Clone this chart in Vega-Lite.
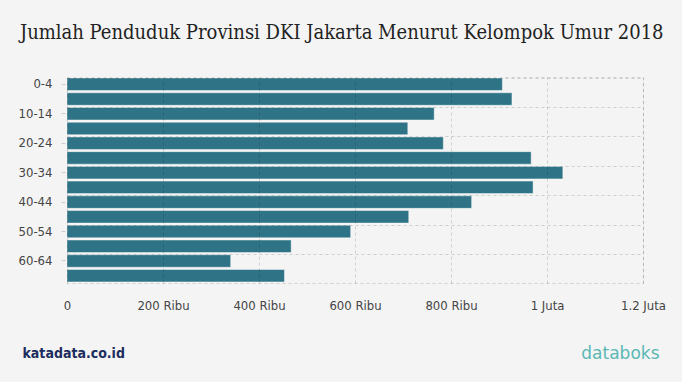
{
  "$schema": "https://vega.github.io/schema/vega-lite/v6.json",
  "width": 576,
  "height": 206,
  "autosize": "none",
  "padding": {"left": 67, "top": 77, "right": 39, "bottom": 99},
  "background": "#f4f4f4",
  "config": {
    "view": {"stroke": "rgba(0,0,0,0.15)", "strokeDash": [3, 3], "strokeWidth": 1}
  },
  "title": {
    "text": "Jumlah Penduduk Provinsi DKI Jakarta Menurut Kelompok Umur 2018",
    "font": "DejaVu Serif Condensed",
    "fontSize": 20,
    "fontWeight": "normal",
    "color": "#222222",
    "anchor": "middle",
    "frame": "bounds",
    "baseline": "alphabetic",
    "offset": 18
  },
  "data": {
    "values": [
      {"umur": "0-4", "jumlah": 907000},
      {"umur": "5-9", "jumlah": 927000},
      {"umur": "10-14", "jumlah": 765000},
      {"umur": "15-19", "jumlah": 710000},
      {"umur": "20-24", "jumlah": 784000},
      {"umur": "25-29", "jumlah": 967000},
      {"umur": "30-34", "jumlah": 1033000},
      {"umur": "35-39", "jumlah": 971000},
      {"umur": "40-44", "jumlah": 843000},
      {"umur": "45-49", "jumlah": 712000},
      {"umur": "50-54", "jumlah": 591000},
      {"umur": "55-59", "jumlah": 467000},
      {"umur": "60-64", "jumlah": 341000},
      {"umur": "65+", "jumlah": 453000}
    ]
  },
  "layer": [
    {
      "mark": {"type": "bar", "color": "#2f7386", "stroke": "#ffffff", "strokeOpacity": 0.45, "strokeWidth": 1},
      "encoding": {
        "y": {
          "field": "umur", "type": "nominal", "sort": null,
          "scale": {"paddingInner": 0.15, "paddingOuter": 0.07},
          "axis": {
            "orient": "left",
            "title": null,
            "values": ["0-4", "10-14", "20-24", "30-34", "40-44", "50-54", "60-64"],
            "domain": false,
            "grid": false,
            "ticks": true,
            "tickSize": 4,
            "tickColor": "#cccccc",
            "offset": 2,
            "labelPadding": 9,
            "labelFont": "DejaVu Sans Condensed",
            "labelFontSize": 13,
            "labelColor": "#444444"
          }
        },
        "x": {
          "field": "jumlah", "type": "quantitative",
          "scale": {"domain": [0, 1200000], "nice": false},
          "axis": {
            "orient": "bottom",
            "values": [0, 200000, 400000, 600000, 800000, 1000000, 1200000],
            "labelExpr": "datum.value == 0 ? '0' : (datum.value >= 1000000 ? format(datum.value / 1000000, '') + ' Juta' : format(datum.value / 1000, '') + ' Ribu')",
            "labelFlush": false,
            "labelOverlap": false,
            "grid": true,
            "gridDash": [3, 3],
            "gridColor": "rgba(0,0,0,0.15)",
            "domain": false,
            "ticks": false,
            "labelPadding": 16,
            "labelFont": "DejaVu Sans Condensed",
            "labelFontSize": 13,
            "labelColor": "#444444",
            "zindex": 1,
            "title": "databoks",
            "titleFont": "DejaVu Sans",
            "titleFontSize": 17,
            "titleFontWeight": "normal",
            "titleColor": "#5bb8b4",
            "titleAnchor": "end",
            "titleAlign": "right",
            "titleBaseline": "middle",
            "titleX": 592,
            "titleY": 70
          }
        }
      }
    },
    {
      "mark": {"type": "bar", "opacity": 0},
      "encoding": {
        "y": {
          "field": "umur", "type": "nominal", "sort": null,
          "axis": {
            "orient": "left",
            "title": null,
            "values": ["0-4", "10-14", "20-24", "30-34", "40-44", "50-54", "60-64"],
            "bandPosition": 0,
            "grid": true,
            "gridDash": [3, 3],
            "gridColor": "rgba(0,0,0,0.15)",
            "labels": false,
            "ticks": false,
            "domain": false,
            "zindex": 1
          }
        },
        "x": {
          "field": "jumlah", "type": "quantitative",
          "axis": {
            "orient": "bottom",
            "grid": false,
            "labels": false,
            "ticks": false,
            "domain": false,
            "title": "katadata.co.id",
            "titleFont": "DejaVu Sans Condensed",
            "titleFontSize": 14,
            "titleFontWeight": "bold",
            "titleColor": "#1c2d5e",
            "titleAnchor": "start",
            "titleAlign": "left",
            "titleBaseline": "middle",
            "titleX": -45,
            "titleY": 70
          }
        }
      }
    }
  ],
  "resolve": {"axis": {"x": "independent", "y": "independent"}}
}
